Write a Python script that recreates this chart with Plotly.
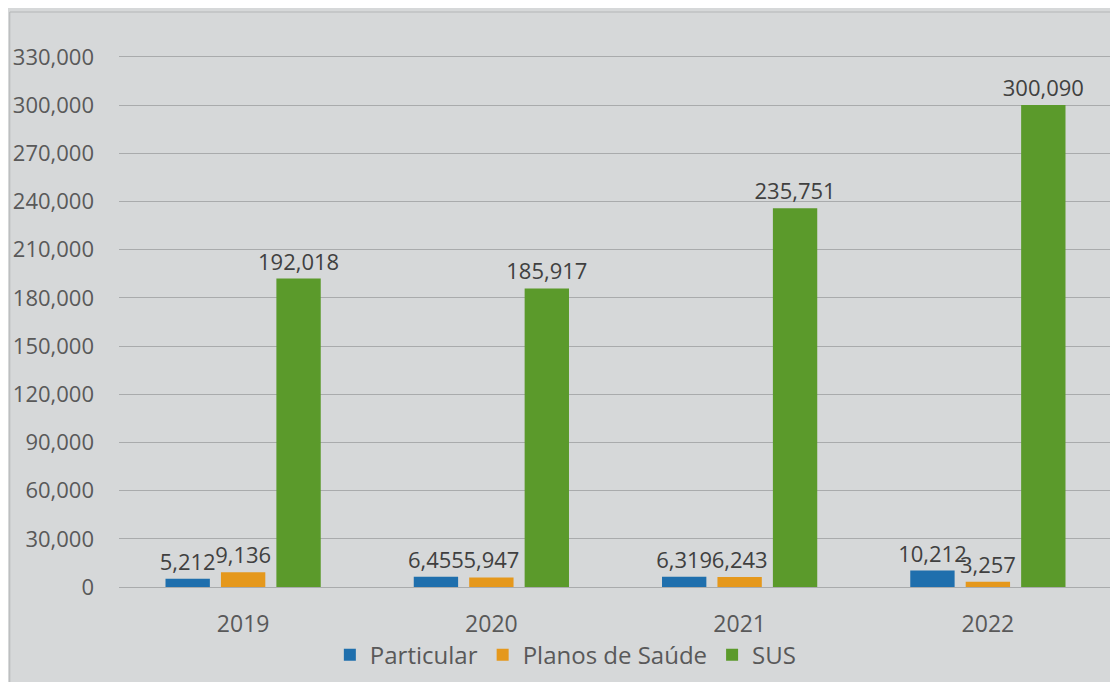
import plotly.graph_objects as go

years = ["2019", "2020", "2021", "2022"]
particular = [5212, 6455, 6319, 10212]
planos = [9136, 5947, 6243, 3257]
sus = [192018, 185917, 235751, 300090]
tick_vals = [0, 30000, 60000, 90000, 120000, 150000, 180000, 210000, 240000, 270000, 300000, 330000]
tick_text = [f"{v:,}" for v in tick_vals]

series = [
    ("Particular", particular, "#1f6fad"),
    ("Planos de Saúde", planos, "#e5981c"),
    ("SUS", sus, "#5b9a2b"),
]

FONT = "Open Sans"
fig = go.Figure()
for name, vals, color in series:
    fig.add_trace(go.Bar(
        x=years, y=vals, name=name, marker_color=color, marker_line_width=0,
        text=[f"{v:,}" for v in vals], textposition="outside", cliponaxis=False,
        constraintext="none", textangle=0,
        textfont=dict(family=FONT, size=22, color="#404040"),
    ))

bg = "#d6d8d9"
fig.update_layout(
    width=1118, height=682,
    margin=dict(l=111, r=14, t=4, b=103, autoexpand=False),
    paper_bgcolor=bg, plot_bgcolor=bg,
    barmode="group", bargap=0.33, bargroupgap=0.2,
    font=dict(family=FONT, size=22, color="#595959"),
    showlegend=True,
    legend=dict(orientation="h", x=0.45, xanchor="center", yref="container", y=0.051, yanchor="middle",
                font=dict(family=FONT, size=24, color="#595959"),
                bgcolor="rgba(0,0,0,0)", itemwidth=30, traceorder="normal"),
    xaxis=dict(showgrid=False, showline=False, ticks="", automargin=False,
               tickfont=dict(size=23, color="#595959"), ticklabelstandoff=21),
    yaxis=dict(range=[0, 358000], tickvals=tick_vals, ticktext=tick_text, automargin=False,
               showgrid=True, gridcolor="#a9abac", gridwidth=1,
               zeroline=True, zerolinecolor="#a9abac", zerolinewidth=1,
               showline=False, ticks="", tickfont=dict(size=22, color="#595959"),
               ticklabelstandoff=24),
    shapes=[
        dict(type="line", xref="paper", yref="paper", x0=-0.11, x1=1.02, y0=1, y1=1,
             line=dict(color="#b4b6b7", width=1)),
        dict(type="line", xref="paper", yref="paper", x0=-0.11, x1=-0.11, y0=1, y1=-0.2,
             line=dict(color="#b4b6b7", width=1)),
    ],
)

fig.write_html("out.html")
